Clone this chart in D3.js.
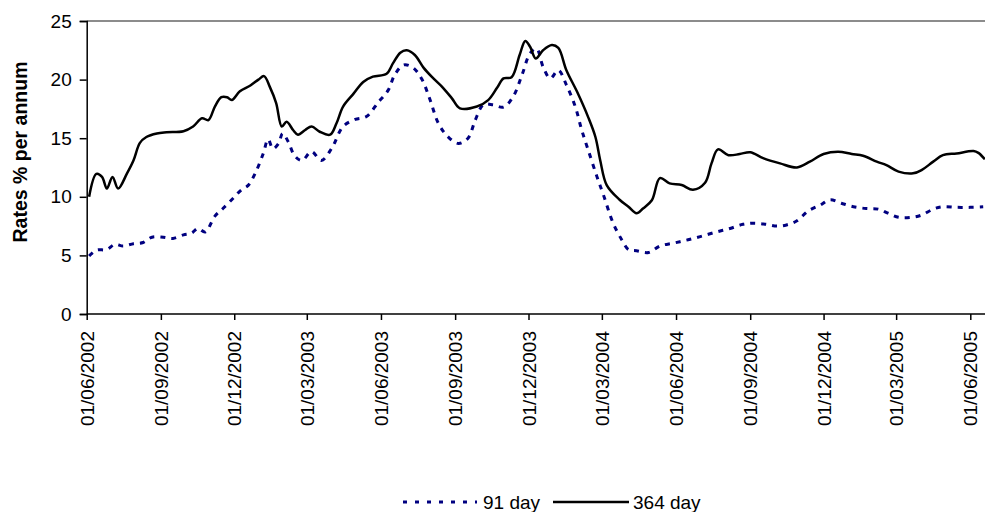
<!DOCTYPE html>
<html>
<head>
<meta charset="utf-8">
<script src="https://cdn.jsdelivr.net/npm/d3@7"></script>
<style>
    body { margin: 0; background: #fff; }
    #container { width: 985px; height: 512px; }
    text { font-family: "Liberation Sans", Arial, sans-serif; }
</style>
</head>
<body>
<div id="container"></div>
<script>
// data
let tickDates = ["2002-06-01", "2002-09-01", "2002-12-01", "2003-03-01", "2003-06-01", "2003-09-01",
    "2003-12-01", "2004-03-01", "2004-06-01", "2004-09-01", "2004-12-01", "2005-03-01", "2005-06-01"];
let yTicks = [0, 5, 10, 15, 20, 25];

let dates364 = ["2002-06-04", "2002-06-13", "2002-06-20", "2002-06-26", "2002-07-03", "2002-07-10", "2002-07-21",
    "2002-07-29", "2002-08-06", "2002-08-14", "2002-08-27", "2002-09-08", "2002-09-29", "2002-10-11", "2002-10-22",
    "2002-10-30", "2002-11-07", "2002-11-15", "2002-11-22", "2002-11-28", "2002-12-08", "2002-12-21", "2002-12-31",
    "2003-01-07", "2003-01-14", "2003-01-22", "2003-01-29", "2003-02-04", "2003-02-12", "2003-02-18", "2003-02-27",
    "2003-03-07", "2003-03-17", "2003-03-30", "2003-04-07", "2003-04-15", "2003-04-28", "2003-05-10", "2003-05-22",
    "2003-06-08", "2003-06-16", "2003-06-25", "2003-07-03", "2003-07-13", "2003-07-24", "2003-08-05", "2003-08-17",
    "2003-08-28", "2003-09-07", "2003-09-28", "2003-10-12", "2003-10-23", "2003-10-31", "2003-11-10", "2003-11-20",
    "2003-11-27", "2003-12-03", "2003-12-10", "2003-12-19", "2003-12-30", "2004-01-07", "2004-01-17", "2004-01-30",
    "2004-02-13", "2004-02-22", "2004-02-28", "2004-03-07", "2004-03-23", "2004-04-03", "2004-04-13", "2004-04-21",
    "2004-05-02", "2004-05-12", "2004-05-24", "2004-06-08", "2004-06-22", "2004-07-07", "2004-07-15", "2004-07-23",
    "2004-08-05", "2004-08-19", "2004-09-01", "2004-09-17", "2004-10-08", "2004-10-29", "2004-11-14", "2004-12-01",
    "2004-12-19", "2005-01-05", "2005-01-19", "2005-02-05", "2005-02-17", "2005-03-04", "2005-03-22", "2005-04-02",
    "2005-04-16", "2005-04-28", "2005-05-15", "2005-06-05", "2005-06-11", "2005-06-19"];
let rates364 = [10.0, 11.95, 11.7, 10.7, 11.7, 10.7, 12.0,
    13.1, 14.6, 15.1, 15.4, 15.5, 15.6, 16.0, 16.7,
    16.55, 17.7, 18.5, 18.5, 18.25, 19.0, 19.5, 20.0,
    20.3, 19.4, 18.0, 16.0, 16.4, 15.7, 15.3, 15.7,
    16.0, 15.55, 15.3, 16.3, 17.7, 18.8, 19.8, 20.25,
    20.5, 21.4, 22.3, 22.5, 22.1, 21.0, 20.1, 19.3,
    18.4, 17.55, 17.7, 18.25, 19.3, 20.1, 20.2, 22.1,
    23.3, 22.8, 21.8, 22.5, 22.95, 22.7, 20.8, 19.0,
    16.8, 15.1, 13.1, 11.0, 9.75, 9.15, 8.6, 9.0,
    9.7, 11.6, 11.15, 11.0, 10.6, 11.2, 12.85, 14.05,
    13.55, 13.65, 13.8, 13.3, 12.85, 12.5, 13.0, 13.65,
    13.85, 13.65, 13.5, 13.0, 12.7, 12.15, 12.0, 12.3,
    13.0, 13.55, 13.7, 13.9, 13.75, 13.2];

let dates91 = ["2002-06-04", "2002-06-13", "2002-06-26", "2002-07-06", "2002-07-16", "2002-07-29", "2002-08-10",
    "2002-08-21", "2002-09-04", "2002-09-16", "2002-09-29", "2002-10-09", "2002-10-17", "2002-10-26", "2002-11-07",
    "2002-11-17", "2002-11-30", "2002-12-10", "2002-12-18", "2002-12-27", "2003-01-06", "2003-01-12", "2003-01-18",
    "2003-01-25", "2003-01-30", "2003-02-06", "2003-02-14", "2003-02-23", "2003-03-07", "2003-03-19", "2003-04-01",
    "2003-04-15", "2003-04-30", "2003-05-14", "2003-05-29", "2003-06-10", "2003-06-18", "2003-06-29", "2003-07-11",
    "2003-07-22", "2003-08-01", "2003-08-11", "2003-08-22", "2003-09-05", "2003-09-17", "2003-09-26", "2003-10-06",
    "2003-10-18", "2003-10-31", "2003-11-12", "2003-11-23", "2003-12-03", "2003-12-11", "2003-12-19", "2003-12-28",
    "2004-01-07", "2004-01-17", "2004-01-28", "2004-02-05", "2004-02-13", "2004-02-24", "2004-03-03", "2004-03-15",
    "2004-03-26", "2004-04-03", "2004-04-13", "2004-04-28", "2004-05-12", "2004-05-29", "2004-06-14", "2004-07-01",
    "2004-07-21", "2004-08-07", "2004-08-23", "2004-09-05", "2004-09-21", "2004-10-04", "2004-10-16", "2004-10-29",
    "2004-11-12", "2004-11-27", "2004-12-09", "2004-12-23", "2005-01-07", "2005-01-23", "2005-02-07", "2005-02-19",
    "2005-03-04", "2005-03-20", "2005-04-02", "2005-04-16", "2005-04-28", "2005-05-15", "2005-06-01", "2005-06-17"];
let rates91 = [4.95, 5.45, 5.5, 5.95, 5.8, 6.0, 6.1,
    6.55, 6.55, 6.45, 6.75, 6.9, 7.3, 7.0, 8.35,
    9.0, 9.9, 10.6, 10.95, 12.0, 13.7, 14.9, 14.1,
    14.55, 15.4, 14.7, 13.5, 13.1, 13.85, 13.1, 14.15,
    16.0, 16.6, 16.85, 18.1, 19.1, 20.4, 21.25, 21.0,
    20.0, 18.25, 16.3, 15.2, 14.55, 15.0, 16.55, 17.85,
    17.85, 17.65, 18.55, 20.4, 22.25, 22.65, 21.1, 20.1,
    20.8, 19.55, 17.7, 15.7, 14.0, 11.7, 10.15, 7.75,
    6.3, 5.5, 5.4, 5.25, 5.8, 6.05, 6.3, 6.6,
    7.0, 7.3, 7.65, 7.75, 7.65, 7.5, 7.6, 7.95,
    8.8, 9.3, 9.75, 9.45, 9.15, 9.0, 8.95, 8.6,
    8.25, 8.25, 8.45, 8.95, 9.15, 9.1, 9.1, 9.15];

let seriesNames = ["91 day", "364 day"];

let parse = d3.timeParse("%Y-%m-%d");
let fmt = d3.timeFormat("%d/%m/%Y");

let series = [
    { name: seriesNames[0], values: dates91.map((d, i) => [parse(d), rates91[i]]) },
    { name: seriesNames[1], values: dates364.map((d, i) => [parse(d), rates364[i]]) }
];

// canvas
let width = 985, height = 512;
let svg = d3.select("#container")
    .append("svg")
    .attr("width", width)
    .attr("height", height);

let plotLeft = 86.7, plotTop = 21, plotBottom = 314;

// scales
let xScale = d3.scaleTime()
    .domain([parse(tickDates[0]), parse(tickDates[tickDates.length - 1])])
    .range([plotLeft, 970.3]);
let yScale = d3.scaleLinear()
    .domain([0, 25])
    .range([plotBottom, plotTop]);

svg.append("clipPath").attr("id", "plotclip")
    .append("rect")
    .attr("x", plotLeft).attr("y", 0)
    .attr("width", width - plotLeft).attr("height", plotBottom + 2);

// top border of plot area
svg.append("line")
    .attr("x1", plotLeft).attr("x2", width)
    .attr("y1", plotTop).attr("y2", plotTop)
    .attr("stroke", "#8c8c8c")
    .attr("stroke-width", 2);

// axes
let yAxis = d3.axisLeft(yScale)
    .tickValues(yTicks)
    .tickSize(7)
    .tickPadding(8);
let yg = svg.append("g")
    .attr("transform", "translate(" + plotLeft + ",0)")
    .call(yAxis);
yg.selectAll("text")
    .style("font-size", "19px")
    .attr("fill", "#000");

let xAxis = d3.axisBottom(xScale)
    .tickValues(tickDates.map(parse))
    .tickFormat(fmt)
    .tickSize(6);
let xg = svg.append("g")
    .attr("transform", "translate(0," + plotBottom + ")")
    .call(xAxis);
xg.selectAll("text")
    .style("font-size", "19px")
    .attr("fill", "#000")
    .attr("transform", "rotate(-90)")
    .attr("text-anchor", "end")
    .attr("x", -17)
    .attr("y", 0)
    .attr("dy", "0.35em");

svg.selectAll(".domain").attr("stroke", "#000").attr("stroke-width", 1.5);
svg.selectAll(".tick line").attr("stroke", "#000").attr("stroke-width", 1.5);
xg.select(".domain").attr("d", "M" + plotLeft + ",0H" + width);

// axis title
svg.append("text")
    .attr("transform", "translate(27,152) rotate(-90)")
    .attr("text-anchor", "middle")
    .style("font-size", "19.5px")
    .style("font-weight", "bold")
    .text("Rates % per annum");

// lines
let line = d3.line()
    .x(d => xScale(d[0]))
    .y(d => yScale(d[1]))
    .curve(d3.curveCatmullRom.alpha(0.5));

let styles = [
    { stroke: "#000080", width: 3, dash: "5,6" },
    { stroke: "#000", width: 2.5, dash: null }
];

svg.append("g")
    .attr("clip-path", "url(#plotclip)")
    .selectAll("path")
    .data(series)
    .enter()
    .append("path")
    .attr("d", d => line(d.values))
    .attr("fill", "none")
    .attr("stroke", (d, i) => styles[i].stroke)
    .attr("stroke-width", (d, i) => styles[i].width)
    .attr("stroke-dasharray", (d, i) => styles[i].dash);

// legend
let legend = [
    { x1: 403, x2: 477, tx: 483 },
    { x1: 553, x2: 629, tx: 633 }
];
let lg = svg.append("g");
legend.forEach(function (l, i) {
    lg.append("line")
        .attr("x1", l.x1).attr("x2", l.x2)
        .attr("y1", 502).attr("y2", 502)
        .attr("stroke", styles[i].stroke)
        .attr("stroke-width", styles[i].width)
        .attr("stroke-dasharray", i === 0 ? "4,8" : null);
    lg.append("text")
        .attr("x", l.tx)
        .attr("y", 509)
        .style("font-size", "19px")
        .text(series[i].name);
});
</script>
</body>
</html>
